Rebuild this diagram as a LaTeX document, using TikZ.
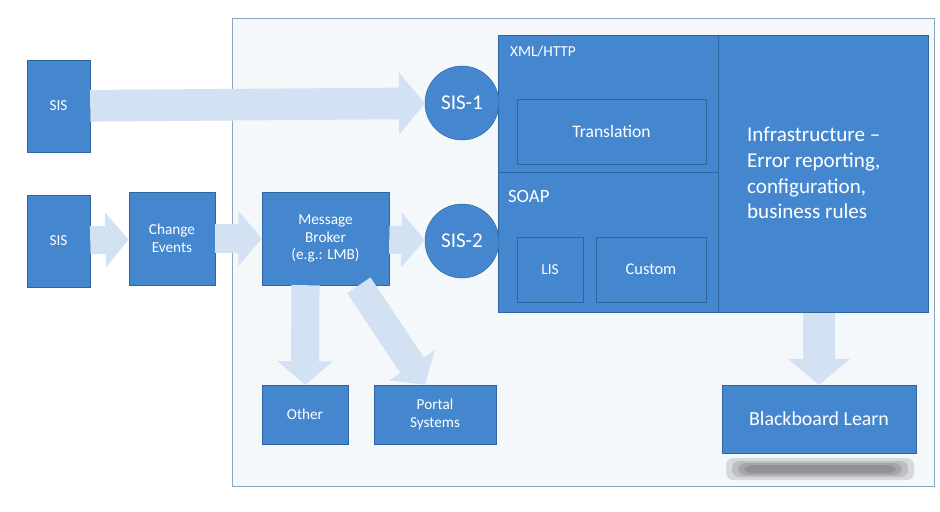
\documentclass[tikz,border=0pt]{standalone}
\usepackage{fontspec}
\setmainfont{Carlito}
\usetikzlibrary{arrows.meta,calc}
\definecolor{boxblue}{HTML}{4587CF}
\definecolor{boxedge}{HTML}{2F669F}
\definecolor{arrblue}{HTML}{D2E2F3}
\definecolor{panel}{HTML}{F5F8FB}
\definecolor{panedge}{HTML}{8DA6C0}
\begin{document}
\begin{tikzpicture}[x=0.03cm,y=-0.03cm,
  box/.style={draw=boxedge,fill=boxblue,text=white,inner sep=1pt,align=center,font=\fontsize{13}{15}\selectfont},
  circ/.style={circle,draw=boxedge,fill=boxblue,text=white,minimum size=2.22cm,inner sep=0pt,font=\fontsize{18}{20}\selectfont},
  fat/.style={draw=arrblue,line width=24pt,-{Triangle[length=20pt,width=46pt]}},
  fatbig/.style={draw=arrblue,line width=27pt,-{Triangle[length=22pt,width=52pt]}},
  shad/.style={fill=black,opacity=0.12,rounded corners=6pt}]
\useasboundingbox (0,0) rectangle (940,512);
\fill[panel,draw=panedge,line width=0.8pt] (232,18) rectangle (934,486);
% nodes
\node[box,minimum width=1.89cm,minimum height=2.76cm] (sisA) at (58.5,106) {SIS};
\node[box,minimum width=1.89cm,minimum height=2.76cm] (sisB) at (58.5,241) {SIS};
\node[box,minimum width=2.58cm,minimum height=2.79cm] (chg) at (172,238.5) {Change\\Events};
\node[box,minimum width=3.81cm,minimum height=2.79cm] (brk) at (325.5,238.5) {Message\\Broker\\(e.g.: LMB)};
\node[box,minimum width=2.58cm,minimum height=1.77cm] (oth) at (305,414.5) {Other};
\node[box,minimum width=3.66cm,minimum height=1.77cm] (por) at (435,414.5) {Portal\\Systems};
\node[box,minimum width=6.6cm,minimum height=4.11cm] (xml) at (608,103.5) {};
\node[box,minimum width=6.6cm,minimum height=4.2cm] (soap) at (608,242) {};
\node[text=white,anchor=west,font=\fontsize{13}{15}\selectfont] (xmlt) at (506,52) {XML/HTTP};
\node[text=white,anchor=west,font=\fontsize{16}{18}\selectfont] (soapt) at (504,196) {SOAP};
\node[box,minimum width=6.3cm,minimum height=8.31cm] (inf) at (823,173.5) {};
\node[text=white,align=left,anchor=west,font=\fontsize{18}{22}\selectfont] (inft) at (743,173) {Infrastructure --\\Error reporting,\\configuration,\\business rules};
\node[box,minimum width=5.67cm,minimum height=1.95cm,font=\fontsize{15}{17}\selectfont] (tr) at (611.5,131.5) {Translation};
\node[box,minimum width=1.98cm,minimum height=1.95cm] (lis) at (550,269.5) {LIS};
\node[box,minimum width=3.3cm,minimum height=1.95cm,font=\fontsize{14}{16}\selectfont] (cus) at (651,269.5) {Custom};
\node[circ] (s1) at (462,103) {SIS-1};
\node[circ] (s2) at (462,241) {SIS-2};
\fill[shad] (726,458) rectangle (914,480);
\fill[shad] (732,461) rectangle (908,477);
\fill[shad] (738,463) rectangle (902,475);
\fill[shad] (744,465) rectangle (896,473);
\node[box,minimum width=5.82cm,minimum height=2.04cm,font=\fontsize{17}{19}\selectfont] (bb) at (819,419) {Blackboard Learn};
% arrows
\draw[fatbig] (sisA) -- (s1);
\draw[fat] (sisB) -- (chg);
\draw[fat] (chg) -- (brk);
\draw[fat] (brk) -- (s2);
\draw[fat] ([xshift=-0.6cm]brk.south) -- (oth.north);
\draw[fat] ([xshift=1.0cm]brk.south) -- ([xshift=-0.3cm]por.north);
\draw[fatbig] ([yshift=-1pt]inf.south -| bb.north) -- (bb.north);
\end{tikzpicture}
\end{document}
